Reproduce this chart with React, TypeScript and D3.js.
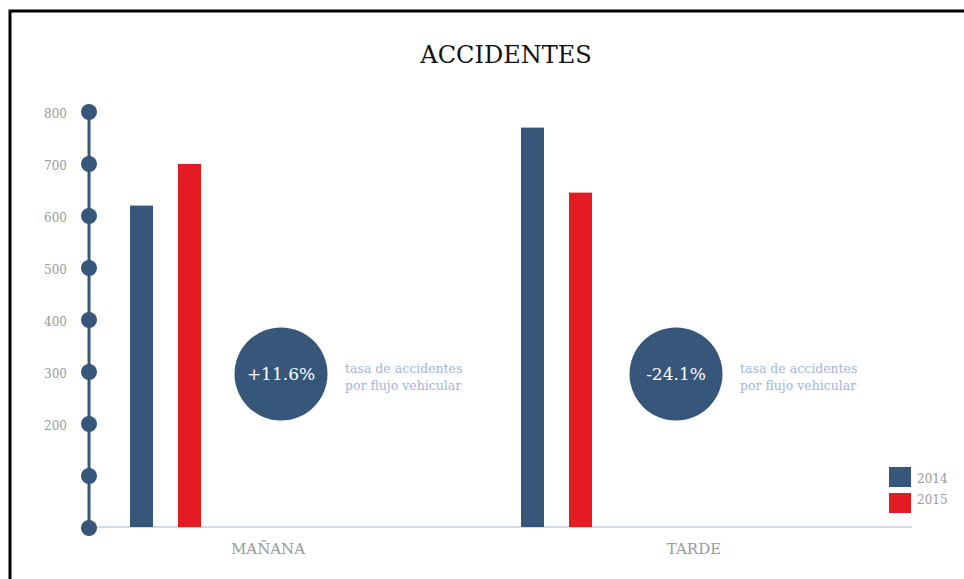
import React from "react";
import * as d3 from "d3";

const categories = ["MAÑANA", "TARDE"];
const years = ["2014", "2015"];
const values2014 = [620, 770];
const values2015 = [700, 645];
const changes = ["+11.6%", "-24.1%"];
const yTicks = [0, 100, 200, 300, 400, 500, 600, 700, 800];
const yTickLabels = ["", "", "200", "300", "400", "500", "600", "700", "800"];
const noteLines = ["tasa de accidentes", "por flujo vehicular"];
const colors = ["#36567a", "#e31b23"];

const W = 964;
const H = 579;
const FONT = "'DejaVu Serif', serif";

export default function App() {
  const y = d3.scaleLinear().domain([0, 800]).range([528, 112]);
  const band = d3.scaleBand<string>().domain(categories).range([120, 902]);
  const labelX = d3.scalePoint<string>().domain(categories).range([268, 694]);
  const circleX = d3.scalePoint<string>().domain(categories).range([281, 676]);
  const barW = 23;
  const barOffsets = [10, 58];
  const series = [values2014, values2015];
  const axisX = 89;

  return (
    <svg width={W} height={H} style={{ position: "absolute", left: 0, top: 0, background: "#fff" }}>
      <rect x={10} y={11} width={1200} height={1200} fill="#fff" stroke="#000" strokeWidth={3} />
      <text x={506} y={63} textAnchor="middle" fontFamily={FONT} fontSize={24} fill="#111">
        ACCIDENTES
      </text>
      {/* baseline */}
      <line x1={axisX} x2={912} y1={y(0) - 1} y2={y(0) - 1} stroke="#c5cde2" strokeWidth={1.5} />
      {/* bars */}
      {categories.map((c, i) =>
        series.map((s, k) => (
          <rect
            key={c + k}
            x={(band(c) as number) + barOffsets[k]}
            y={y(s[i])}
            width={barW}
            height={y(0) - 1 - y(s[i])}
            fill={colors[k]}
          />
        ))
      )}
      {/* axis */}
      <line x1={axisX} x2={axisX} y1={y(800)} y2={y(0)} stroke="#36567a" strokeWidth={3} />
      {yTicks.map((t, i) => (
        <g key={t}>
          <circle cx={axisX} cy={y(t)} r={8} fill="#36567a" />
          {yTickLabels[i] && (
            <text x={67} y={y(t) + 6} textAnchor="end" fontFamily={FONT} fontSize={12} fill="#999">
              {yTickLabels[i]}
            </text>
          )}
        </g>
      ))}
      {/* change circles */}
      {categories.map((c, i) => {
        const cx = circleX(c) as number;
        const cy = 374;
        return (
          <g key={"circ" + c}>
            <circle cx={cx} cy={cy} r={46.5} fill="#36567a" />
            <text x={cx} y={cy + 6} textAnchor="middle" fontFamily={FONT} fontSize={17} fill="#fff">
              {changes[i]}
            </text>
            {noteLines.map((l, j) => (
              <text key={j} x={cx + 64} y={cy - 1 + j * 17} fontFamily={FONT} fontSize={12.5} fill="#a3b4e0">
                {l}
              </text>
            ))}
          </g>
        );
      })}
      {/* category labels */}
      {categories.map((c) => (
        <text key={"lab" + c} x={labelX(c)} y={554} textAnchor="middle" fontFamily={FONT} fontSize={15} fill="#999">
          {c}
        </text>
      ))}
      {/* legend */}
      {years.map((yr, k) => (
        <g key={yr}>
          <rect x={889} y={467 + k * 26} width={22} height={20} fill={colors[k]} />
          <text x={917} y={483 + k * 21} fontFamily={FONT} fontSize={12} fill="#999">
            {yr}
          </text>
        </g>
      ))}
    </svg>
  );
}
